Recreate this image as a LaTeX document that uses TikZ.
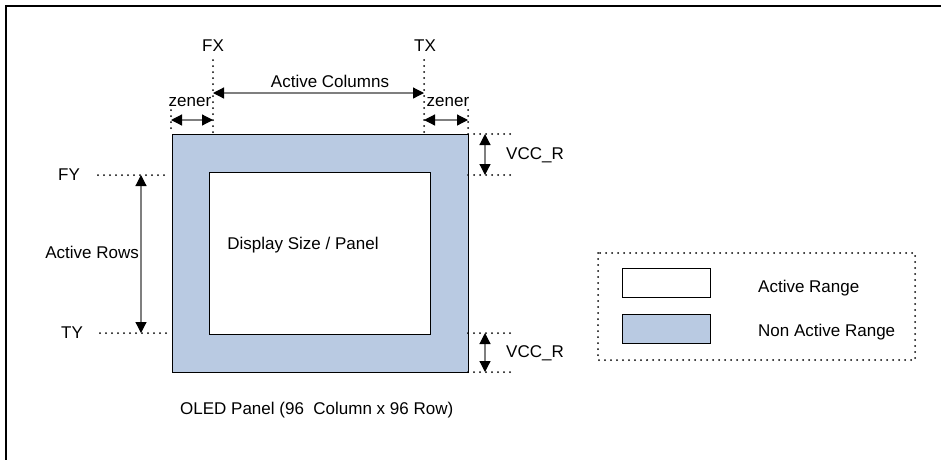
\documentclass[tikz,border=0pt]{standalone}
\usepackage{fontspec}
\setmainfont{Liberation Sans}
\usetikzlibrary{arrows.meta}

\definecolor{panelblue}{HTML}{B9CAE2}
\definecolor{armgray}{HTML}{7F7F7F}

\tikzset{
    dots/.style={line width=2pt, dash pattern=on 0pt off 6pt, line cap=round},
    dimarrow/.style={armgray, line width=1.2pt,
        {Triangle[length=11pt,width=11pt,color=black]}-{Triangle[length=11pt,width=11pt,color=black]}},
    lbl/.style={inner sep=0pt, font=\fontsize{17}{20}\selectfont},
    boxed/.style={draw, line width=0.8pt, inner sep=0pt}
}

\begin{document}
\begin{tikzpicture}[x=1pt,y=-1pt]
        \useasboundingbox (0,0) rectangle (941,459);

        % Frame
        \draw[line width=2pt] (6,470) -- (6,6) -- (950,6);

        % Panel and active area
        \node[boxed, fill=panelblue, minimum width=296pt, minimum height=238pt] (panel) at (320,253) {};
        \node[boxed, fill=white, minimum width=221pt, minimum height=162pt] (active) at (319.5,253) {};
        \node[lbl] (disp) at (303,245) {Display Size / Panel};
        \node[lbl, anchor=west] (oled) at (180,410) {OLED Panel (96\ \ Column x 96 Row)};

        % Column markers
        \coordinate (fxtop) at (213,60);  \coordinate (fxbot) at (213,133);
        \coordinate (txtop) at (424,60);  \coordinate (txbot) at (424,133);
        \coordinate (zltop) at (171,110); \coordinate (zlbot) at (171,133);
        \coordinate (zrtop) at (468,110); \coordinate (zrbot) at (468,133);
        \draw[dots] (fxtop) -- (fxbot);
        \draw[dots] (txtop) -- (txbot);
        \draw[dots] (zltop) -- (zlbot);
        \draw[dots] (zrtop) -- (zrbot);
        \node[lbl] (fx) at (213,46) {FX};
        \node[lbl] (tx) at (425,46) {TX};

        \coordinate (colL) at (213,93); \coordinate (colR) at (424,93);
        \draw[dimarrow] (colL) -- (colR);
        \node[lbl] (cols) at (330,81) {Active Columns};

        \coordinate (zlL) at (171,120); \coordinate (zlR) at (213,120);
        \coordinate (zrL) at (424,120); \coordinate (zrR) at (468,120);
        \draw[dimarrow] (zlL) -- (zlR);
        \draw[dimarrow] (zrL) -- (zrR);
        \node[lbl] (zenerL) at (190,102) {zener};
        \node[lbl] (zenerR) at (448,102) {zener};

        % Row markers
        \coordinate (fyL) at (98,175);  \coordinate (fyR) at (168,175);
        \coordinate (tyL) at (100,333); \coordinate (tyR) at (168,333);
        \draw[dots] (fyL) -- (fyR);
        \draw[dots] (tyL) -- (tyR);
        \node[lbl] (fy) at (69,175) {FY};
        \node[lbl] (ty) at (72,333) {TY};
        \coordinate (rowT) at (141,175); \coordinate (rowB) at (141,333);
        \draw[dimarrow] (rowT) -- (rowB);
        \node[lbl, anchor=east] (rows) at (139,252) {Active Rows};

        % VCC_R margins
        \coordinate (v1a) at (468,134); \coordinate (v1b) at (512,134);
        \coordinate (v1c) at (468,175); \coordinate (v1d) at (512,175);
        \coordinate (v2a) at (468,333); \coordinate (v2b) at (512,333);
        \coordinate (v2c) at (468,372); \coordinate (v2d) at (512,372);
        \draw[dots] (v1a) -- (v1b);
        \draw[dots] (v1c) -- (v1d);
        \draw[dots] (v2a) -- (v2b);
        \draw[dots] (v2c) -- (v2d);
        \coordinate (vt1) at (485,134); \coordinate (vb1) at (485,175);
        \coordinate (vt2) at (485,333); \coordinate (vb2) at (485,372);
        \draw[dimarrow] (vt1) -- (vb1);
        \draw[dimarrow] (vt2) -- (vb2);
        \node[lbl, anchor=west] (vcc1) at (506,155) {VCC\_R};
        \node[lbl, anchor=west] (vcc2) at (506,353) {VCC\_R};

        % Legend
        \draw[dots] (598,253) rectangle (915,360);
        \node[boxed, fill=white, minimum width=88pt, minimum height=29pt] (keyA) at (666,282.5) {};
        \node[boxed, fill=panelblue, minimum width=88pt, minimum height=29pt] (keyN) at (666,328.5) {};
        \node[lbl, anchor=west] (keyAtxt) at (758,288) {Active Range};
        \node[lbl, anchor=west] (keyNtxt) at (758,332) {Non Active Range};
\end{tikzpicture}
\end{document}
